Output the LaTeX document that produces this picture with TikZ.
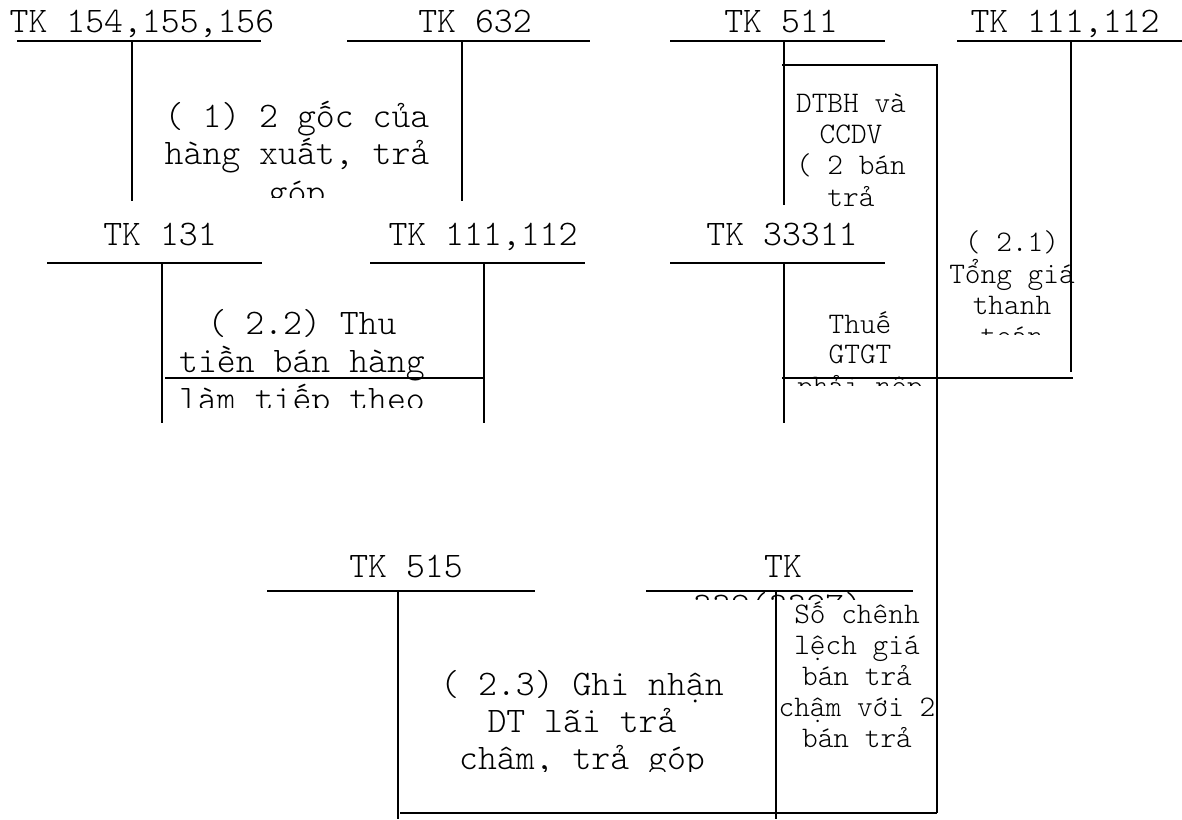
\documentclass[tikz,border=0pt]{standalone}
\usepackage{fontspec}
\tikzset{
  ln/.style={line width=1.5pt},
  big/.style={font=\ttfamily\fontseries{l}\fontsize{27pt}{28.5pt}\selectfont, inner sep=0pt, anchor=base},
  sm/.style={font=\ttfamily\fontseries{l}\fontsize{22.4pt}{24pt}\selectfont, inner sep=0pt, anchor=base},
}
\begin{document}
\begin{tikzpicture}[x=0.75pt,y=-0.75pt]
\fill[white] (0,0) rectangle (1182,819);
\useasboundingbox (0,0) rectangle (1182,819);

% ---------- account titles ----------
\node[big] (t154) at (142,32) {TK 154,155,156};
\node[big] (t632) at (475,32) {TK 632};
\node[big] (t511) at (781,32) {TK 511};
\node[big] (t111a) at (1065,32) {TK 111,112};
\node[big] (t131) at (160,245) {TK 131};
\node[big] (t111b) at (483,245) {TK 111,112};
\node[big] (t33311) at (782,245) {TK 33311};
\node[big] (t515) at (406,577) {TK 515};
\node[big] (t338) at (783,577) {TK};
\begin{scope}
\clip (640,560) rectangle (920,599);
\node[big] (t338b) at (778,617) {338(3387)};
\end{scope}

% ---------- T-account lines ----------
\draw[ln] (17,41) -- (261,41);  \draw[ln] (132,41) -- (132,201);
\draw[ln] (347,41) -- (590,41); \draw[ln] (462,41) -- (462,201);
\draw[ln] (670,41) -- (885,41); \draw[ln] (784,41) -- (784,205);
\draw[ln] (957,41) -- (1182,41); \draw[ln] (1071,41) -- (1071,372);
\draw[ln] (47,263) -- (262,263); \draw[ln] (162,263) -- (162,423);
\draw[ln] (370,263) -- (585,263); \draw[ln] (484,263) -- (484,423);
\draw[ln] (670,263) -- (885,263); \draw[ln] (784,263) -- (784,423);
\draw[ln] (267,591) -- (535,591); \draw[ln] (398,591) -- (398,819);
\draw[ln] (646,591) -- (913,591); \draw[ln] (776,591) -- (776,819);

% ---------- flow lines ----------
\draw[ln] (782,65) -- (937,65) -- (937,813);
\draw[ln] (165,378) -- (484,378);
\draw[ln] (782,378) -- (1073,378);
\draw[ln] (400,813) -- (937,813);

% ---------- (1) ----------
\begin{scope}
\clip (134,60) rectangle (460,197);
\node[big] (n1a) at (297,127) {( 1) 2 gốc của};
\node[big] (n1b) at (297,164) {hàng xuất, trả};
\node[big] (n1c) at (297,203) {góp};
\end{scope}

% ---------- DTBH ----------
\begin{scope}
\clip (786,67) rectangle (935,213);
\node[sm] (d1) at (851,112) {DTBH và};
\node[sm] (d2) at (851,143) {CCDV};
\node[sm] (d3) at (851,174) {( 2 bán};
\node[sm] (d4) at (851,206) {trả};
\end{scope}

% ---------- (2.1) ----------
\begin{scope}
\clip (939,220) rectangle (1100,334);
\node[sm] (s1) at (1012,251) {( 2.1)};
\node[sm] (s2) at (1012,283) {Tổng giá};
\node[sm] (s3) at (1012,314) {thanh};
\node[sm] (s4) at (1012,345) {toán};
\end{scope}

% ---------- Thuế ----------
\begin{scope}
\clip (786,300) rectangle (935,385);
\node[sm] (g1) at (860,333) {Thuế};
\node[sm] (g2) at (860,363) {GTGT};
\node[sm] (g3) at (860,395) {phải nộp};
\end{scope}

% ---------- (2.2) ----------
\begin{scope}
\clip (164,290) rectangle (482,407);
\node[big] (p1) at (302,334) {( 2.2) Thu};
\node[big] (p2) at (302,372) {tiền bán hàng};
\node[big] (p3) at (302,410) {làm tiếp theo};
\end{scope}

% ---------- Số chênh lệch ----------
\node[sm] (c1) at (857,623) {Số chênh};
\node[sm] (c2) at (857,654) {lệch giá};
\node[sm] (c3) at (857,685) {bán trả};
\node[sm] (c4) at (857,716) {chậm với 2};
\node[sm] (c5) at (857,747) {bán trả};

% ---------- (2.3) ----------
\begin{scope}
\clip (400,650) rectangle (774,771);
\node[big] (q1) at (582,695) {( 2.3) Ghi nhận};
\node[big] (q2) at (582,732) {DT lãi trả};
\node[big] (q3) at (582,769) {chậm, trả góp};
\end{scope}
\end{tikzpicture}
\end{document}
